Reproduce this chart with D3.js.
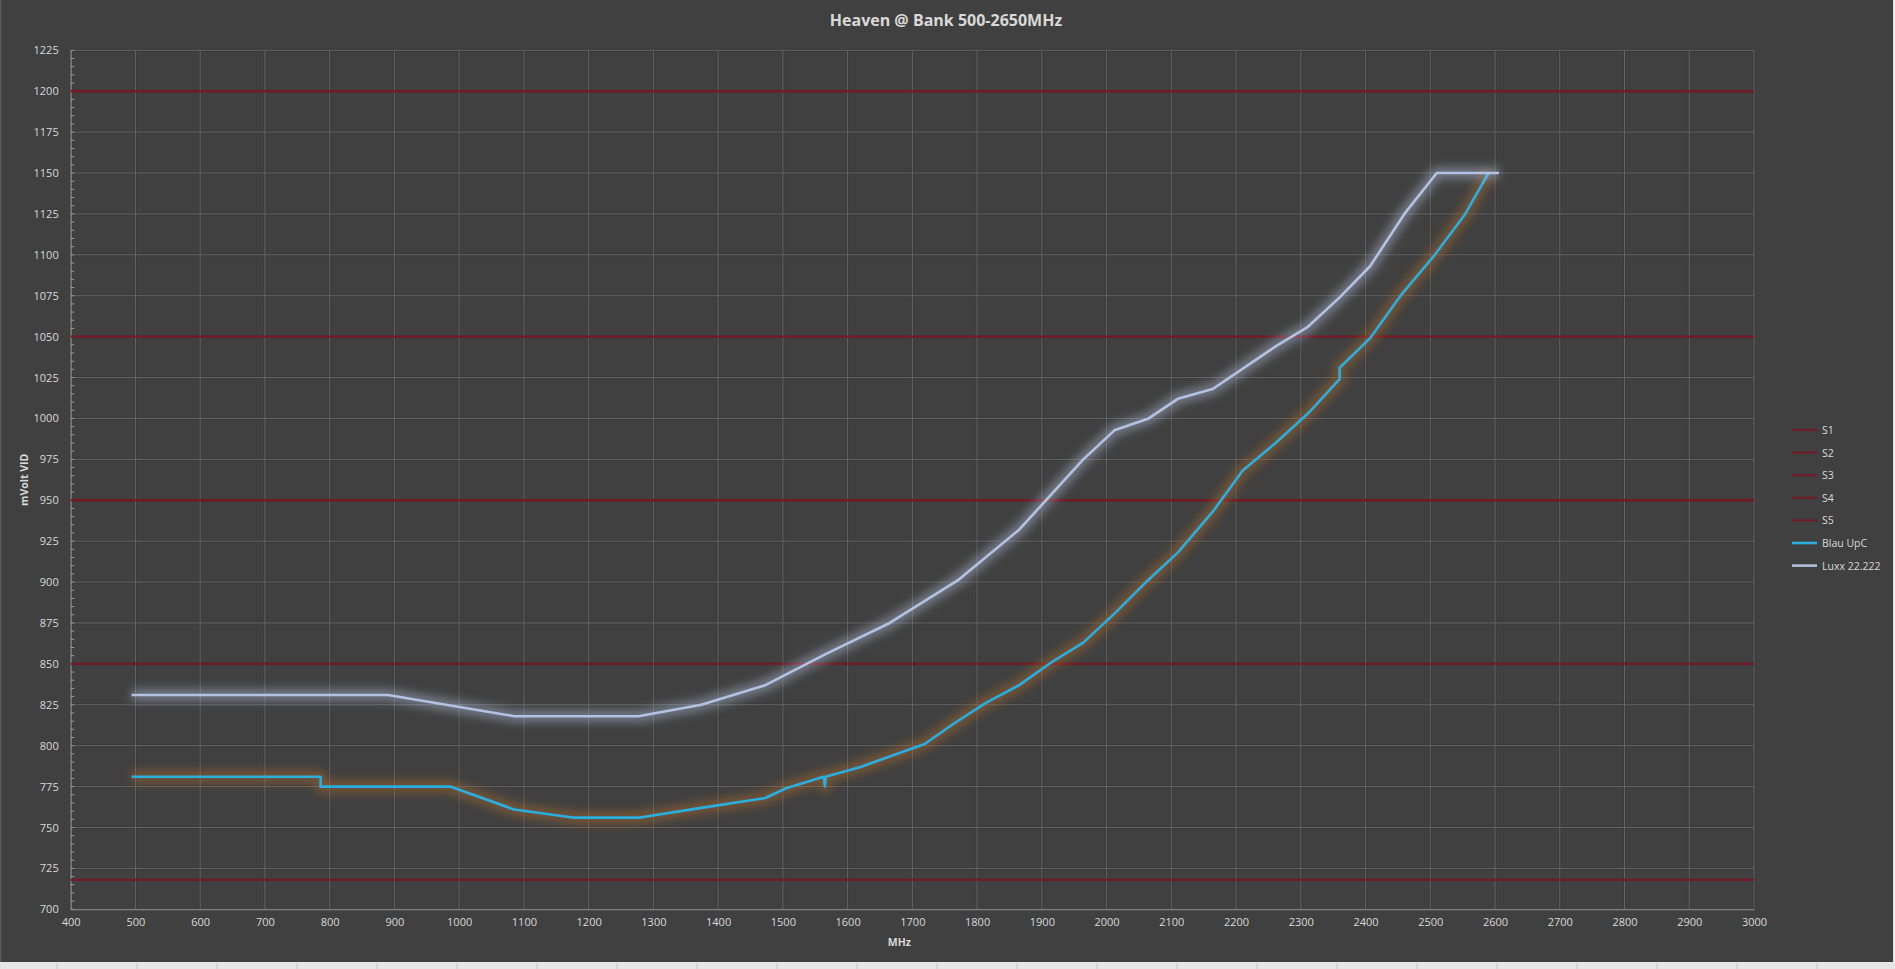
<!DOCTYPE html>
<html>
<head>
<meta charset="utf-8">
<script src="https://cdn.jsdelivr.net/npm/d3@7"></script>
<style>
  html, body { margin: 0; padding: 0; background: #404040; overflow: hidden; }
  svg { display: block; }
  text { font-family: "Open Sans", "Noto Sans", sans-serif; }
</style>
</head>
<body>
<svg id="chart" width="1895" height="969"></svg>
<script>
// ---- Data ----
const title = "Heaven @ Bank 500-2650MHz";
const xTitle = "MHz";
const yTitle = "mVolt VID";
const xTicks = d3.range(400, 3001, 100);
const yTicks = d3.range(700, 1226, 25);

const thresholdNames = ["S1", "S2", "S3", "S4", "S5"];
const thresholdValues = [1200, 1050, 950, 850, 718];

const blauMHz = [494, 786, 786, 986, 1085, 1178, 1277, 1374, 1473, 1505, 1563, 1565, 1566, 1620, 1719, 1766, 1813, 1865, 1915, 1964, 2013, 2061, 2110, 2164, 2210, 2261, 2311, 2360, 2360, 2407, 2456, 2507, 2554, 2590];
const blauMV  = [781, 781, 775, 775, 761, 756, 756, 762, 768, 774, 781, 775, 781, 787, 801, 814, 826, 837, 851, 863, 881, 900, 918, 943, 968, 985, 1003, 1024, 1031, 1049, 1076, 1100, 1125, 1150];

const luxxMHz = [494, 890, 1085, 1277, 1374, 1473, 1566, 1665, 1770, 1865, 1964, 2013, 2065, 2110, 2164, 2261, 2311, 2360, 2407, 2460, 2510, 2606];
const luxxMV  = [831, 831, 818, 818, 825, 837, 856, 875, 901, 932, 975, 993, 1000, 1012, 1018, 1044, 1056, 1074, 1093, 1125, 1150, 1150];

const seriesNames = ["Blau UpC", "Luxx 22.222"];
const seriesColors = ["#2aaee0", "#b4c2e2"];
const glowColors = ["#c8752a", "#c0cff0"];
const thresholdColor = "#741a25";

// ---- Layout ----
const W = 1895, H = 969;
const plot = { left: 70.7, right: 1754, top: 50.3, bottom: 909.3 };
const svg = d3.select("#chart");

svg.append("rect").attr("x", 0).attr("y", 0).attr("width", W).attr("height", H).attr("fill", "#404040");
// Excel sheet strip at bottom / edges
svg.append("rect").attr("x", 0).attr("y", 962).attr("width", W).attr("height", 7).attr("fill", "#e6e6e6");
svg.append("rect").attr("x", 1893).attr("y", 0).attr("width", 2).attr("height", H).attr("fill", "#e6e6e6");
svg.append("rect").attr("x", 0).attr("y", 0).attr("width", 1.5).attr("height", 962).attr("fill", "#5a5a5a");
d3.range(57, W, 80).forEach(cx => {
  svg.append("line").attr("x1", cx).attr("x2", cx).attr("y1", 963).attr("y2", 969).attr("stroke", "#c8c8c8").attr("stroke-width", 1);
});

const x = d3.scaleLinear().domain([400, 3000]).range([plot.left, plot.right]);
const y = d3.scaleLinear().domain([700, 1225]).range([plot.bottom, plot.top]);

const defs = svg.append("defs");
const f1 = defs.append("filter").attr("id", "glow").attr("x", "-5%").attr("y", "-20%").attr("width", "110%").attr("height", "140%");
f1.append("feGaussianBlur").attr("stdDeviation", 5);

// Gridlines
const grid = svg.append("g");
grid.selectAll(".vg").data(xTicks).join("line")
  .attr("x1", d => x(d)).attr("x2", d => x(d))
  .attr("y1", plot.top).attr("y2", plot.bottom)
  .attr("stroke", "#353535").attr("stroke-width", 3).attr("opacity", 0.5);
grid.selectAll(".hg").data(yTicks).join("line")
  .attr("x1", plot.left).attr("x2", plot.right)
  .attr("y1", d => y(d)).attr("y2", d => y(d))
  .attr("stroke", "#353535").attr("stroke-width", 3).attr("opacity", 0.5);
grid.selectAll(".vg2").data(xTicks).join("line")
  .attr("x1", d => x(d)).attr("x2", d => x(d))
  .attr("y1", plot.top).attr("y2", plot.bottom)
  .attr("stroke", "#656565").attr("stroke-width", 1);
grid.selectAll(".hg2").data(yTicks).join("line")
  .attr("x1", plot.left).attr("x2", plot.right)
  .attr("y1", d => y(d)).attr("y2", d => y(d))
  .attr("stroke", "#656565").attr("stroke-width", 1);

// Axes
const fmt = d3.format("d");
const yAxis = d3.axisLeft(y).tickValues(yTicks).tickFormat(fmt).tickSize(0).tickPadding(12);
const gy = svg.append("g").attr("transform", `translate(${plot.left},0)`).call(yAxis);
gy.select(".domain").attr("stroke", "#8a8a8a");
gy.selectAll("text").attr("fill", "#d9d9d9").attr("font-size", 11);

const minorY = d3.range(700, 1226, 5);
svg.append("g").selectAll("line").data(minorY).join("line")
  .attr("x1", plot.left).attr("x2", plot.left + 3.5)
  .attr("y1", d => y(d)).attr("y2", d => y(d))
  .attr("stroke", "#9a9a9a").attr("stroke-width", 1);

const xAxis = d3.axisBottom(x).tickValues(xTicks).tickFormat(fmt).tickSize(0).tickPadding(9);
const gx = svg.append("g").attr("transform", `translate(0,${plot.bottom})`).call(xAxis);
gx.select(".domain").attr("stroke", "#8a8a8a");
gx.selectAll("text").attr("fill", "#d9d9d9").attr("font-size", 11);

// Threshold lines
svg.append("g").selectAll("line").data(thresholdValues).join("line")
  .attr("x1", plot.left).attr("x2", plot.right)
  .attr("y1", d => y(d)).attr("y2", d => y(d))
  .attr("stroke", thresholdColor).attr("stroke-width", 2.4);

// Series
const series = [
  { name: seriesNames[0], xs: blauMHz, ys: blauMV, color: seriesColors[0], glow: glowColors[0] },
  { name: seriesNames[1], xs: luxxMHz, ys: luxxMV, color: seriesColors[1], glow: glowColors[1] }
];
const line = d3.line().x(d => x(d[0])).y(d => y(d[1]));
series.forEach(s => {
  const pts = s.xs.map((v, i) => [v, s.ys[i]]);
  svg.append("path").datum(pts).attr("d", line)
    .attr("fill", "none").attr("stroke", s.glow).attr("stroke-width", 12)
    .attr("stroke-opacity", 0.4).attr("filter", "url(#glow)").attr("stroke-linejoin", "round");
  svg.append("path").datum(pts).attr("d", line)
    .attr("fill", "none").attr("stroke", s.color).attr("stroke-width", 2.6)
    .attr("stroke-linejoin", "round");
});

// Titles
svg.append("text").attr("x", 946).attr("y", 26).attr("text-anchor", "middle")
  .attr("font-size", 16).attr("font-weight", "bold").attr("fill", "#d9d9d9").text(title);
svg.append("text").attr("x", x(1680)).attr("y", 946).attr("text-anchor", "middle")
  .attr("font-size", 10.5).attr("font-weight", "bold").attr("fill", "#d9d9d9").text(xTitle);
svg.append("text").attr("transform", `translate(28,${(plot.top + plot.bottom) / 2}) rotate(-90)`)
  .attr("text-anchor", "middle").attr("font-size", 10.5).attr("font-weight", "bold")
  .attr("fill", "#d9d9d9").text(yTitle);

// Legend
const legendItems = thresholdNames.map(n => ({ name: n, color: thresholdColor, w: 2 }))
  .concat(series.map(s => ({ name: s.name, color: s.color, w: 2.6 })));
const lg = svg.append("g");
legendItems.forEach((it, i) => {
  const ly = 430 + i * 22.6;
  lg.append("line").attr("x1", 1792).attr("x2", 1817).attr("y1", ly).attr("y2", ly)
    .attr("stroke", it.color).attr("stroke-width", it.w);
  lg.append("text").attr("x", 1822).attr("y", ly + 4).attr("font-size", 10.5)
    .attr("fill", "#d9d9d9").text(it.name);
});
</script>
</body>
</html>
